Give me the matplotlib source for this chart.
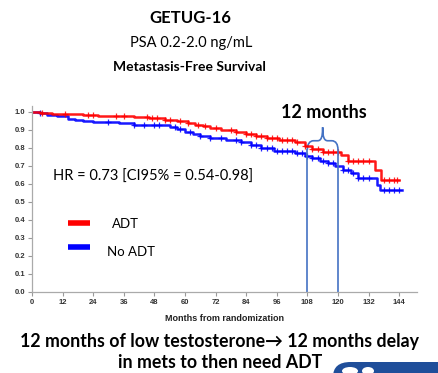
import matplotlib
matplotlib.use("Agg")
import matplotlib.pyplot as plt
import numpy as np
from matplotlib.path import Path
from matplotlib.patches import PathPatch, FancyBboxPatch, Ellipse

# ---- data ----
adt_t = [0, 3, 8, 14, 20, 26, 33, 40, 46, 52, 57, 61, 64, 67, 70, 74, 80, 84, 88, 92, 97, 103, 107, 110, 114, 121, 124, 134.5, 137, 144]
adt_s = [1.0, 0.995, 0.99, 0.986, 0.982, 0.978, 0.975, 0.97, 0.965, 0.958, 0.95, 0.94, 0.93, 0.92, 0.912, 0.902, 0.89, 0.875, 0.865, 0.853, 0.843, 0.832, 0.81, 0.795, 0.778, 0.76, 0.728, 0.68, 0.62, 0.62]
noadt_t = [0, 3, 6, 10, 14, 17, 20, 24, 34, 40, 51, 54, 57, 60, 63, 66, 70, 76, 82, 86, 90, 95, 103, 107, 110, 113, 116, 119, 122, 125, 128, 135.5, 136.5, 145]
noadt_s = [1.0, 0.995, 0.985, 0.975, 0.962, 0.953, 0.947, 0.943, 0.937, 0.93, 0.925, 0.918, 0.905, 0.89, 0.875, 0.865, 0.855, 0.845, 0.832, 0.818, 0.8, 0.785, 0.772, 0.758, 0.745, 0.73, 0.715, 0.7, 0.68, 0.66, 0.633, 0.595, 0.565, 0.565]
adt_censor = [4, 13, 22, 24, 33, 36, 45, 47, 49, 52, 54, 58, 61, 65, 68, 72, 78, 80, 84, 86, 88, 90, 92, 94, 96, 98, 100, 102, 104, 107, 110, 112, 114, 116, 118, 120, 124, 126, 128, 130, 132, 138, 140, 142, 143]
noadt_censor = [3, 30, 40, 44, 48, 50, 56, 58, 62, 66, 70, 74, 80, 82, 86, 88, 90, 92, 94, 96, 98, 100, 102, 104, 106, 108, 110, 112, 114, 116, 118, 122, 124, 126, 128, 130, 132, 138, 140, 142, 144]
xticks = list(range(0, 145, 12))
yticks = [round(0.1 * i, 1) for i in range(11)]
marks = [108, 120]

RED = "#FF0000"
BLUE = "#0000FF"
LINEC = "#4472C4"

fig = plt.figure(figsize=(4.38, 3.73), dpi=100)
ax = fig.add_axes([32 / 438, 1 - 292 / 373, (417 - 32) / 438, (292 - 106) / 373])
ax.set_xlim(0, 151)
ax.set_ylim(0, 1.033)


def surv_at(ts, ss, t):
    idx = np.searchsorted(ts, t, side="right") - 1
    return ss[max(idx, 0)]


for ts, ss, cens, col in [(noadt_t, noadt_s, noadt_censor, BLUE), (adt_t, adt_s, adt_censor, RED)]:
    ax.step(ts, ss, where="post", color=col, lw=1.8, alpha=0.9)
    cy = [surv_at(ts, ss, c) for c in cens]
    ax.plot(cens, cy, ls="none", marker="+", ms=4.5, mew=0.9, color=col, alpha=0.85)

for m in marks:
    ax.plot([m, m], [0, 0.79], color=LINEC, lw=1.2)

# curly brace
x0, x1 = marks
xm = (x0 + x1) / 2
yb, yh, yt = 0.79, 0.84, 0.915
verts = [(x0, yb), (x0, yh - 0.02), (x0 + 0.8, yh), (x0 + 2.5, yh),
         (xm - 2.0, yh),
         (xm - 0.6, yh), (xm, yh + 0.02), (xm, yt),
         (xm, yh + 0.02), (xm + 0.6, yh), (xm + 2.0, yh),
         (x1 - 2.5, yh),
         (x1 - 0.8, yh), (x1, yh - 0.02), (x1, yb)]
codes = [Path.MOVETO, Path.CURVE4, Path.CURVE4, Path.CURVE4,
         Path.LINETO,
         Path.CURVE4, Path.CURVE4, Path.CURVE4,
         Path.CURVE4, Path.CURVE4, Path.CURVE4,
         Path.LINETO,
         Path.CURVE4, Path.CURVE4, Path.CURVE4]
ax.add_patch(PathPatch(Path(verts, codes), fill=False, edgecolor=LINEC, lw=1.2))

ax.set_xticks(xticks)
ax.set_yticks(yticks)
ax.set_xticklabels([str(v) for v in xticks], fontsize=5.5, fontweight="bold", color="#333333", family="Liberation Sans")
ax.set_yticklabels(["%.1f" % v for v in yticks], fontsize=5.5, fontweight="bold", color="#333333", family="Liberation Sans")
ax.tick_params(length=3, width=0.8, color="#999999", pad=2)
for s in ["top", "right"]:
    ax.spines[s].set_visible(False)
for s in ["left", "bottom"]:
    ax.spines[s].set_color("#aaaaaa")
    ax.spines[s].set_linewidth(0.9)
ax.set_xlabel("Months from randomization", fontsize=6.5, fontweight="bold", color="#222222", family="Liberation Sans", labelpad=6)

# legend-like lines
fig.add_artist(plt.Line2D([68 / 438, 90 / 438], [1 - 223 / 373] * 2, color=RED, lw=4, solid_capstyle="butt"))
fig.add_artist(plt.Line2D([68 / 438, 90 / 438], [1 - 247 / 373] * 2, color=BLUE, lw=4, solid_capstyle="butt"))

fam = ["Lato", "DejaVu Sans"]


def ftext(x, y, s, **kw):
    fig.text(x / 438, 1 - y / 373, s, family=fam, **kw)


ftext(112, 224, "ADT", fontsize=9.5, ha="left", va="center")
ftext(107, 252, "No ADT", fontsize=9.5, ha="left", va="center")
ftext(53, 177, "HR = 0.73 [CI95% = 0.54-0.98]", fontsize=10.5, ha="left", va="center")
ftext(324, 112, "12 months", fontsize=13, fontweight="bold", ha="center", va="center")
ftext(190, 18, "GETUG-16", fontsize=12, fontweight="bold", ha="center", va="center")
ftext(191, 43, "PSA 0.2-2.0 ng/mL", fontsize=10.5, ha="center", va="center")
ftext(189, 67, "Metastasis-Free Survival", fontsize=10, fontweight="bold", ha="center", va="center")
ftext(220, 342, "12 months of low testosterone\u2192 12 months delay", fontsize=12.8, fontweight="bold", ha="center", va="center")
ftext(220, 363, "in mets to then need ADT", fontsize=12.8, fontweight="bold", ha="center", va="center")

# blue blob bottom-right
fig.add_artist(FancyBboxPatch((333 / 438, -0.05), 0.35, (373 - 362) / 373 + 0.05,
                              boxstyle="round,pad=0,rounding_size=0.04", transform=fig.transFigure,
                              facecolor="#1F4E9A", edgecolor="none", clip_on=False))
fig.add_artist(Ellipse((350 / 438, 1 - 371 / 373), 16 / 438, 8 / 373, transform=fig.transFigure,
                       facecolor="white", edgecolor="none"))
fig.add_artist(Ellipse((368 / 438, 1 - 371 / 373), 12 / 438, 8 / 373, transform=fig.transFigure,
                       facecolor="white", edgecolor="none"))

fig.savefig("out.png", dpi=100)
